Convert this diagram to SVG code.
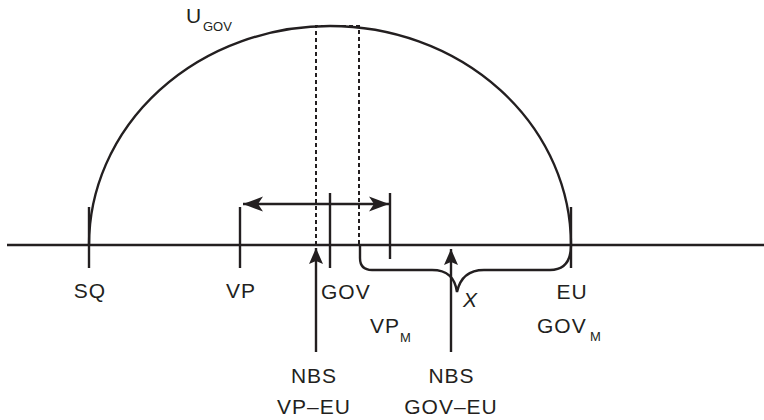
<svg xmlns="http://www.w3.org/2000/svg" width="764" height="420" viewBox="0 0 764 420">
<style>
.ln{stroke:#231f20;stroke-width:2.4;fill:none}
.ds{stroke:#231f20;stroke-width:2;fill:none;stroke-dasharray:4 3}
.t{font-family:"Liberation Sans",Arial,sans-serif;font-size:21px;fill:#231f20;letter-spacing:1px}
.s{font-family:"Liberation Sans",Arial,sans-serif;font-size:13px;fill:#231f20}
</style>
<defs>
<marker id="ah" markerWidth="20" markerHeight="16" refX="20" refY="8" orient="auto-start-reverse" markerUnits="userSpaceOnUse">
<path d="M20 8 L0 0.5 L5 8 L0 15.5 Z" fill="#231f20"/>
</marker>
<marker id="au" markerWidth="16" markerHeight="14" refX="16" refY="7" orient="auto" markerUnits="userSpaceOnUse">
<path d="M16 7 L0 0 L3 7 L0 14 Z" fill="#231f20"/>
</marker>
</defs>
<rect width="764" height="420" fill="#fff"/>
<g id="axis">
<line class="ln" x1="7" y1="245" x2="764" y2="245"/>
</g>
<g id="utility">
<path class="ln" d="M89 245 A241 219 0 0 1 571 245"/>
<text class="t" x="186" y="23" letter-spacing="0">U</text>
<text class="s" x="203" y="31">GOV</text>
</g>
<g id="dashed">
<path class="ds" d="M316 245 V26 H359 V245"/>
</g>
<g id="SQ">
<line class="ln" x1="89" y1="207" x2="89" y2="268"/>
<text class="t" x="90" y="298" text-anchor="middle">SQ</text>
</g>
<g id="VP">
<line class="ln" x1="240" y1="207" x2="240" y2="268"/>
<text class="t" x="241" y="298" text-anchor="middle">VP</text>
</g>
<g id="GOV">
<line class="ln" x1="330" y1="193" x2="330" y2="268"/>
<text class="t" x="321" y="299">GOV</text>
</g>
<g id="VPM">
<line class="ln" x1="390" y1="193" x2="390" y2="259"/>
<text class="t" x="370" y="333">VP</text>
<text class="s" x="400" y="342">M</text>
</g>
<g id="EU">
<line class="ln" x1="571" y1="207" x2="571" y2="268"/>
<text class="t" x="572" y="299" text-anchor="middle">EU</text>
<text class="t" x="537" y="333">GOV</text>
<text class="s" x="590" y="341">M</text>
</g>
<g id="X">
<path class="ln" d="M360 245 V258 Q360 270 372 270 H432 C448 270 455 278 457 292 C460 278 468 270 484 270 H550 Q571 270 571 245"/>
<text class="t" x="463" y="307" font-style="italic" letter-spacing="0">X</text>
</g>
<g id="NBS1">
<text class="t" x="314" y="383" text-anchor="middle">NBS</text>
<text class="t" x="314" y="414" text-anchor="middle">VP–EU</text>
</g>
<g id="NBS2">
<text class="t" x="451.5" y="383" text-anchor="middle">NBS</text>
<text class="t" x="451" y="414" text-anchor="middle">GOV–EU</text>
</g>
<g id="connectors">
<line class="ln" x1="243" y1="204" x2="389" y2="204" marker-start="url(#ah)" marker-end="url(#ah)"/>
<line class="ln" x1="316" y1="352" x2="316" y2="248" marker-end="url(#au)"/>
<line class="ln" x1="451" y1="352" x2="451" y2="249" marker-end="url(#au)"/>
</g>
</svg>
